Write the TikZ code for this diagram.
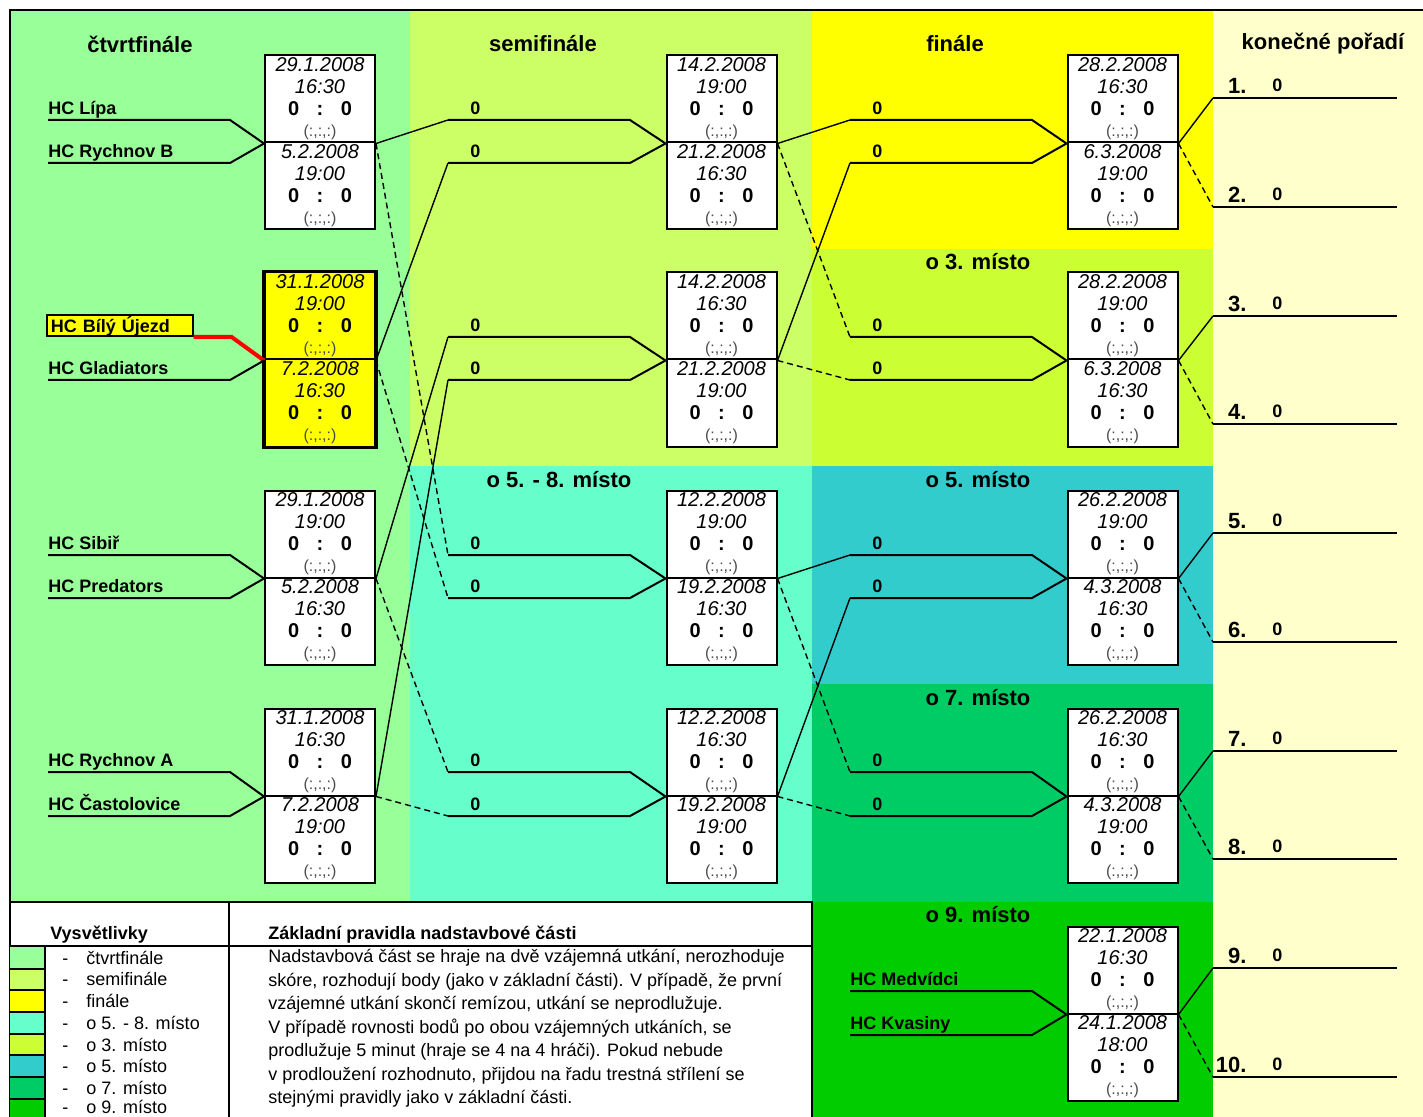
\documentclass[tikz,border=0pt]{standalone}
\usepackage{fontspec}
\setmainfont{Liberation Sans}

\definecolor{ctvrt}{HTML}{99FF99}
\definecolor{semi}{HTML}{CCFF66}
\definecolor{final}{HTML}{FFFF00}
\definecolor{treti}{HTML}{CCFF33}
\definecolor{patosm}{HTML}{66FFCC}
\definecolor{pate}{HTML}{33CCCC}
\definecolor{sedme}{HTML}{00CC66}
\definecolor{devate}{HTML}{00CC00}
\definecolor{poradi}{HTML}{FFFFCC}

% text of one match: date, time, score, periods
\newcommand{\zapas}[2]{\textit{#1}\\\textit{#2}\\\textbf{\makebox[32pt]{0\hfill:\hfill0}}\\{\fontsize{8}{10}\selectfont\color{black!70}(:,:,:)}}

\begin{document}
\begin{tikzpicture}
  [x=0.5pt,y=-0.5pt,
   half/.style={draw,line width=1pt,fill=white,minimum width=55pt,minimum height=43.5pt,inner sep=0pt,align=center,font=\fontsize{10}{10.85}\selectfont},
   team/.style={anchor=south west,inner xsep=0pt,inner ysep=2.5pt,text depth=0pt,font=\fontsize{9}{11}\selectfont\bfseries},
   goal/.style={anchor=south west,inner xsep=11pt,inner ysep=2.5pt,text depth=0pt,font=\fontsize{9}{11}\selectfont\bfseries},
   title/.style={font=\fontsize{11}{13}\selectfont\bfseries},
   rank/.style={anchor=south west,inner xsep=0pt,inner ysep=2pt,text depth=0pt},
   legend/.style={anchor=west,inner sep=0pt,font=\fontsize{9}{11}\selectfont},
   bracket/.style={line width=1pt},
   winner/.style={line width=0.7pt},
   loser/.style={line width=0.7pt,dash pattern=on 3pt off 2pt}]
  \useasboundingbox (0,0) rectangle (1423,1117);
  % backgrounds
  \fill[ctvrt]  (10,10)    rectangle (410,902);
  \fill[semi]   (410,10)   rectangle (812,466);
  \fill[patosm] (410,466)  rectangle (812,902);
  \fill[final]  (812,10)   rectangle (1213,249);
  \fill[treti]  (812,249)  rectangle (1213,466);
  \fill[pate]   (812,466)  rectangle (1213,684);
  \fill[sedme]  (812,684)  rectangle (1213,902);
  \fill[devate] (812,902)  rectangle (1213,1117);
  \fill[poradi] (1213,10)  rectangle (1423,1117);
  \draw[line width=1pt] (10,1117) -- (10,10) -- (1423,10);

  % titles
  \node[title] (tctvrt) at (140,44)  {čtvrtfinále};
  \node[title] (tsemi)  at (543,44)  {semifinále};
  \node[title] (tfinal) at (955,44)  {finále};
  \node[title] (tporad) at (1323,44) {konečné pořadí};
  \node[title] (ttreti) at (978,262) {o 3. místo};
  \node[title] (tpat8)  at (559,480) {o 5. - 8. místo};
  \node[title] (tpate)  at (978,480) {o 5. místo};
  \node[title] (tsedm)  at (978,698) {o 7. místo};
  \node[title] (tdevat) at (978,915) {o 9. místo};

  % quarterfinals
  \node[half] (qf1a) at (320,99)  {\zapas{29.1.2008}{16:30}};
  \node[half] (qf1b) at (320,186) {\zapas{5.2.2008}{19:00}};
  \node[half,fill=final] (qf2a) at (320,316) {\zapas{31.1.2008}{19:00}};
  \node[half,fill=final] (qf2b) at (320,403) {\zapas{7.2.2008}{16:30}};
  \draw[line width=1.75pt] (qf2a.north west) rectangle (qf2b.south east);
  \node[half] (qf3a) at (320,534) {\zapas{29.1.2008}{19:00}};
  \node[half] (qf3b) at (320,621) {\zapas{5.2.2008}{16:30}};
  \node[half] (qf4a) at (320,752) {\zapas{31.1.2008}{16:30}};
  \node[half] (qf4b) at (320,839) {\zapas{7.2.2008}{19:00}};

  \node[team] (lipa)  at (48,120) {HC Lípa};
  \node[team] (rychb) at (48,163) {HC Rychnov B};
  \node[team,anchor=south west,draw,line width=0.8pt,fill=final,inner xsep=2pt,inner ysep=0pt,text height=8.5pt,text depth=2pt,text width=69pt,align=left] (bily) at (46,337) {HC Bílý Újezd};
  \node[team] (glad)  at (48,380) {HC Gladiators};
  \node[team] (sibir) at (48,555) {HC Sibiř};
  \node[team] (pred)  at (48,598) {HC Predators};
  \node[team] (rycha) at (48,772) {HC Rychnov A};
  \node[team] (cast)  at (48,816) {HC Častolovice};
  \draw[bracket] (lipa.south west) -- ++(182,0) -- (qf1a.south west);
  \draw[bracket] (rychb.south west) -- ++(182,0) -- (qf1a.south west);
  \draw[red,line width=2pt] (bily.south east) -- ++(38,0) -- (qf2a.south west);
  \draw[bracket] (glad.south west) -- ++(182,0) -- (qf2a.south west);
  \draw[bracket] (sibir.south west) -- ++(182,0) -- (qf3a.south west);
  \draw[bracket] (pred.south west) -- ++(182,0) -- (qf3a.south west);
  \draw[bracket] (rycha.south west) -- ++(182,0) -- (qf4a.south west);
  \draw[bracket] (cast.south west) -- ++(182,0) -- (qf4a.south west);

  % semifinals and games for 5.-8.
  \node[half] (sf1a) at (721.5,99)  {\zapas{14.2.2008}{19:00}};
  \node[half] (sf1b) at (721.5,186) {\zapas{21.2.2008}{16:30}};
  \node[half] (sf2a) at (721.5,316) {\zapas{14.2.2008}{16:30}};
  \node[half] (sf2b) at (721.5,403) {\zapas{21.2.2008}{19:00}};
  \node[half] (sf3a) at (721.5,534) {\zapas{12.2.2008}{19:00}};
  \node[half] (sf3b) at (721.5,621) {\zapas{19.2.2008}{16:30}};
  \node[half] (sf4a) at (721.5,752) {\zapas{12.2.2008}{16:30}};
  \node[half] (sf4b) at (721.5,839) {\zapas{19.2.2008}{19:00}};

  \node[goal] (s1u) at (448,120) {0};
  \node[goal] (s1l) at (448,163) {0};
  \node[goal] (s2u) at (448,337) {0};
  \node[goal] (s2l) at (448,380) {0};
  \node[goal] (s3u) at (448,555) {0};
  \node[goal] (s3l) at (448,598) {0};
  \node[goal] (s4u) at (448,772) {0};
  \node[goal] (s4l) at (448,816) {0};
  \foreach \g/\m in {s1u/sf1a,s1l/sf1a,s2u/sf2a,s2l/sf2a,s3u/sf3a,s3l/sf3a,s4u/sf4a,s4l/sf4a}
    \draw[bracket] (\g.south west) -- ++(182,0) -- (\m.south west);
  \draw[winner] (qf1a.south east) -- (s1u.south west);
  \draw[winner] (qf2a.south east) -- (s1l.south west);
  \draw[winner] (qf3a.south east) -- (s2u.south west);
  \draw[winner] (qf4a.south east) -- (s2l.south west);
  \draw[loser]  (qf1a.south east) -- (s3u.south west);
  \draw[loser]  (qf2a.south east) -- (s3l.south west);
  \draw[loser]  (qf3a.south east) -- (s4u.south west);
  \draw[loser]  (qf4a.south east) -- (s4l.south west);

  % finals and placement games
  \node[half] (fi1a) at (1122.5,99)  {\zapas{28.2.2008}{16:30}};
  \node[half] (fi1b) at (1122.5,186) {\zapas{6.3.2008}{19:00}};
  \node[half] (fi2a) at (1122.5,316) {\zapas{28.2.2008}{19:00}};
  \node[half] (fi2b) at (1122.5,403) {\zapas{6.3.2008}{16:30}};
  \node[half] (fi3a) at (1122.5,534) {\zapas{26.2.2008}{19:00}};
  \node[half] (fi3b) at (1122.5,621) {\zapas{4.3.2008}{16:30}};
  \node[half] (fi4a) at (1122.5,752) {\zapas{26.2.2008}{16:30}};
  \node[half] (fi4b) at (1122.5,839) {\zapas{4.3.2008}{19:00}};
  \node[half] (o9a)  at (1122.5,970)  {\zapas{22.1.2008}{16:30}};
  \node[half] (o9b)  at (1122.5,1057) {\zapas{24.1.2008}{18:00}};

  \node[goal] (f1u) at (850,120) {0};
  \node[goal] (f1l) at (850,163) {0};
  \node[goal] (f2u) at (850,337) {0};
  \node[goal] (f2l) at (850,380) {0};
  \node[goal] (f3u) at (850,555) {0};
  \node[goal] (f3l) at (850,598) {0};
  \node[goal] (f4u) at (850,772) {0};
  \node[goal] (f4l) at (850,816) {0};
  \foreach \g/\m in {f1u/fi1a,f1l/fi1a,f2u/fi2a,f2l/fi2a,f3u/fi3a,f3l/fi3a,f4u/fi4a,f4l/fi4a}
    \draw[bracket] (\g.south west) -- ++(182,0) -- (\m.south west);
  \draw[winner] (sf1a.south east) -- (f1u.south west);
  \draw[winner] (sf2a.south east) -- (f1l.south west);
  \draw[loser]  (sf1a.south east) -- (f2u.south west);
  \draw[loser]  (sf2a.south east) -- (f2l.south west);
  \draw[winner] (sf3a.south east) -- (f3u.south west);
  \draw[winner] (sf4a.south east) -- (f3l.south west);
  \draw[loser]  (sf3a.south east) -- (f4u.south west);
  \draw[loser]  (sf4a.south east) -- (f4l.south west);

  \node[team] (medv) at (850,991)  {HC Medvídci};
  \node[team] (kvas) at (850,1035) {HC Kvasiny};
  \draw[bracket] (medv.south west) -- ++(182,0) -- (o9a.south west);
  \draw[bracket] (kvas.south west) -- ++(182,0) -- (o9a.south west);

  % final standings
  \foreach \r/\y in {1/98,2/207,3/316,4/424,5/533,6/642,7/751,8/859,9/968,10/1077} {
    \node[rank] (r\r) at (1213,\y) {\makebox[16.5pt][r]{\fontsize{11}{13}\selectfont\bfseries \r.}\hspace{13pt}\raisebox{1pt}{\fontsize{9}{11}\selectfont\bfseries 0}};
    \draw[bracket] (r\r.south west) -- ++(184,0);
  }
  \draw[winner] (fi1a.south east) -- (r1.south west);
  \draw[loser]  (fi1a.south east) -- (r2.south west);
  \draw[winner] (fi2a.south east) -- (r3.south west);
  \draw[loser]  (fi2a.south east) -- (r4.south west);
  \draw[winner] (fi3a.south east) -- (r5.south west);
  \draw[loser]  (fi3a.south east) -- (r6.south west);
  \draw[winner] (fi4a.south east) -- (r7.south west);
  \draw[loser]  (fi4a.south east) -- (r8.south west);
  \draw[winner] (o9a.south east) -- (r9.south west);
  \draw[loser]  (o9a.south east) -- (r10.south west);

  % legend and rules
  \draw[line width=1pt] (10,902) -- (812,902) -- (812,1117);
  \draw[line width=1pt] (10,946) -- (812,946);
  \draw[line width=1pt] (229,902) -- (229,1117);
  \fill[ctvrt]  (10,947)  rectangle (45,969);
  \fill[semi]   (10,969)  rectangle (45,990);
  \fill[final]  (10,990)  rectangle (45,1012);
  \fill[patosm] (10,1012) rectangle (45,1034);
  \fill[treti]  (10,1034) rectangle (45,1055);
  \fill[pate]   (10,1055) rectangle (45,1077);
  \fill[sedme]  (10,1077) rectangle (45,1099);
  \fill[devate] (10,1099) rectangle (45,1117);
  \draw[line width=1pt] (45,946) -- (45,1117);
  \draw[line width=1pt] (10,969) -- (45,969) (10,990) -- (45,990) (10,1012) -- (45,1012)
    (10,1034) -- (45,1034) (10,1055) -- (45,1055) (10,1077) -- (45,1077) (10,1099) -- (45,1099);
  \node[legend,font=\fontsize{9}{11}\selectfont\bfseries] (vysv) at (50,935) {Vysvětlivky};
  \node[legend] (l1) at (62,958)  {\makebox[12pt][l]{-}čtvrtfinále};
  \node[legend] (l2) at (62,979)  {\makebox[12pt][l]{-}semifinále};
  \node[legend] (l3) at (62,1001) {\makebox[12pt][l]{-}finále};
  \node[legend] (l4) at (62,1023) {\makebox[12pt][l]{-}o 5. - 8. místo};
  \node[legend] (l5) at (62,1045) {\makebox[12pt][l]{-}o 3. místo};
  \node[legend] (l6) at (62,1066) {\makebox[12pt][l]{-}o 5. místo};
  \node[legend] (l7) at (62,1088) {\makebox[12pt][l]{-}o 7. místo};
  \node[legend] (l8) at (62,1107) {\makebox[12pt][l]{-}o 9. místo};

  \node[legend,font=\fontsize{9}{11}\selectfont\bfseries] (zaklad) at (268,935) {Základní pravidla nadstavbové části};
  \node[anchor=north west,inner sep=0pt,align=left,font=\fontsize{9}{11.75}\selectfont] (pravidla) at (268,949)
    {Nadstavbová část se hraje na dvě vzájemná utkání, nerozhoduje\\
     skóre, rozhodují body (jako v základní části). V případě, že první\\
     vzájemné utkání skončí remízou, utkání se neprodlužuje.\\
     V případě rovnosti bodů po obou vzájemných utkáních, se\\
     prodlužuje 5 minut (hraje se 4 na 4 hráči). Pokud nebude\\
     v prodloužení rozhodnuto, přijdou na řadu trestná střílení se\\
     stejnými pravidly jako v základní části.};
\end{tikzpicture}
\end{document}
